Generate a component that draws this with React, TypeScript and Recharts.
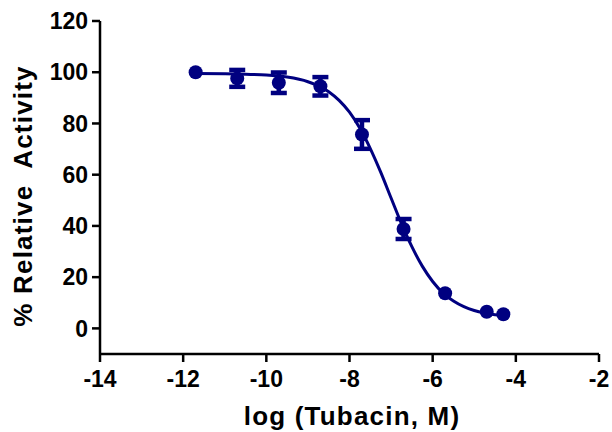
import { ComposedChart, Line, Scatter, ErrorBar, XAxis, YAxis } from 'recharts';

// measured points: log concentration, % activity, error
const logConc = [-11.7, -10.7, -9.7, -8.7, -7.7, -6.7, -5.7, -4.7, -4.3];
const activity = [100, 97.6, 95.9, 94.5, 75.7, 38.8, 13.7, 6.5, 5.5];
const errors = [0, 3.3, 4, 3.6, 5.6, 3.9, 0, 0, 0];

// fitted curve
const curveX = [-11.7, -11, -10.5, -10, -9.5, -9, -8.75, -8.5, -8.25, -8, -7.75, -7.5, -7.25, -7, -6.75, -6.5, -6.25, -6, -5.75, -5.5, -5.25, -5, -4.75, -4.5, -4.3];
const curveY = [99.5, 99.4, 99.2, 98.9, 98.1, 96.3, 94.7, 92.4, 89, 84.4, 78.1, 70.2, 61, 50.9, 40.9, 31.9, 24.3, 18.3, 13.8, 10.7, 8.5, 7, 6, 5.3, 5];

const xTicks = [-14, -12, -10, -8, -6, -4, -2];
const yTicks = [0, 20, 40, 60, 80, 100, 120];

const NAVY = '#000080';
const FONT = '"Liberation Sans", Arial, sans-serif';

const points = logConc.map((x, i) => ({ x, y: activity[i], err: errors[i] }));
const curve = curveX.map((x, i) => ({ x, y: curveY[i] }));

const tickStyle = { fill: '#000', fontSize: 23, fontWeight: 'bold', fontFamily: FONT };
const axisStroke = { stroke: '#000', strokeWidth: 2.5 };

const Dot = (props: any) => <circle cx={props.cx} cy={props.cy} r={7} fill={NAVY} />;

const App = () => {
  return (
    <div style={{ position: 'absolute', left: 0, top: 0, width: 612, height: 432, background: '#fff' }}>
      <ComposedChart width={612} height={432} margin={{ top: 21, right: 13, bottom: 0, left: 0 }}>
        <XAxis
          type="number"
          dataKey="x"
          domain={[-14, -2]}
          ticks={xTicks}
          interval={0}
          height={78}
          tick={tickStyle}
          tickSize={8}
          tickMargin={9}
          axisLine={axisStroke}
          tickLine={axisStroke}
          allowDataOverflow
        />
        <YAxis
          type="number"
          dataKey="y"
          domain={[-10, 120]}
          ticks={yTicks}
          interval={0}
          width={100}
          tick={tickStyle}
          tickSize={8}
          tickMargin={4}
          axisLine={axisStroke}
          tickLine={axisStroke}
          allowDataOverflow
        />
        <Line
          data={curve}
          dataKey="y"
          type="monotone"
          stroke={NAVY}
          strokeWidth={3}
          dot={false}
          activeDot={false}
          isAnimationActive={false}
        />
        <Scatter data={points} dataKey="y" shape={Dot} isAnimationActive={false}>
          <ErrorBar dataKey="err" direction="y" width={8} stroke={NAVY} strokeWidth={4.5} isAnimationActive={false} />
        </Scatter>
      </ComposedChart>
      <div
        style={{
          position: 'absolute',
          left: 352,
          top: 416,
          transform: 'translate(-50%, -50%)',
          fontFamily: FONT,
          fontWeight: 'bold',
          fontSize: 26,
          letterSpacing: 1.2,
          whiteSpace: 'pre',
          lineHeight: 1,
        }}
      >
        log (Tubacin, M)
      </div>
      <div
        style={{
          position: 'absolute',
          left: 23,
          top: 196,
          transform: 'translate(-50%, -50%) rotate(-90deg)',
          fontFamily: FONT,
          fontWeight: 'bold',
          fontSize: 26,
          letterSpacing: 1.2,
          whiteSpace: 'pre',
          lineHeight: 1,
        }}
      >
        % Relative  Activity
      </div>
    </div>
  );
};

export default App;
